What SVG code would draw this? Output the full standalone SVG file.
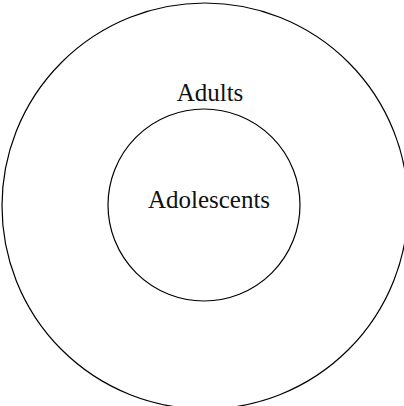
<svg xmlns="http://www.w3.org/2000/svg" width="404" height="406" viewBox="0 0 404 406">
<style>
.ring{fill:none;stroke:#000;stroke-width:1.2}
.lbl{font-family:"Liberation Serif","DejaVu Serif",serif;font-size:25px;fill:#111;text-anchor:middle}
</style>
<rect width="404" height="406" fill="#fff"/>
<g id="adults">
<circle class="ring" cx="205" cy="206" r="203"/>
<text class="lbl" x="210" y="101">Adults</text>
</g>
<g id="adolescents">
<circle class="ring" cx="204" cy="205" r="96"/>
<text class="lbl" x="209" y="208">Adolescents</text>
</g>
<g id="connectors"></g>
</svg>
